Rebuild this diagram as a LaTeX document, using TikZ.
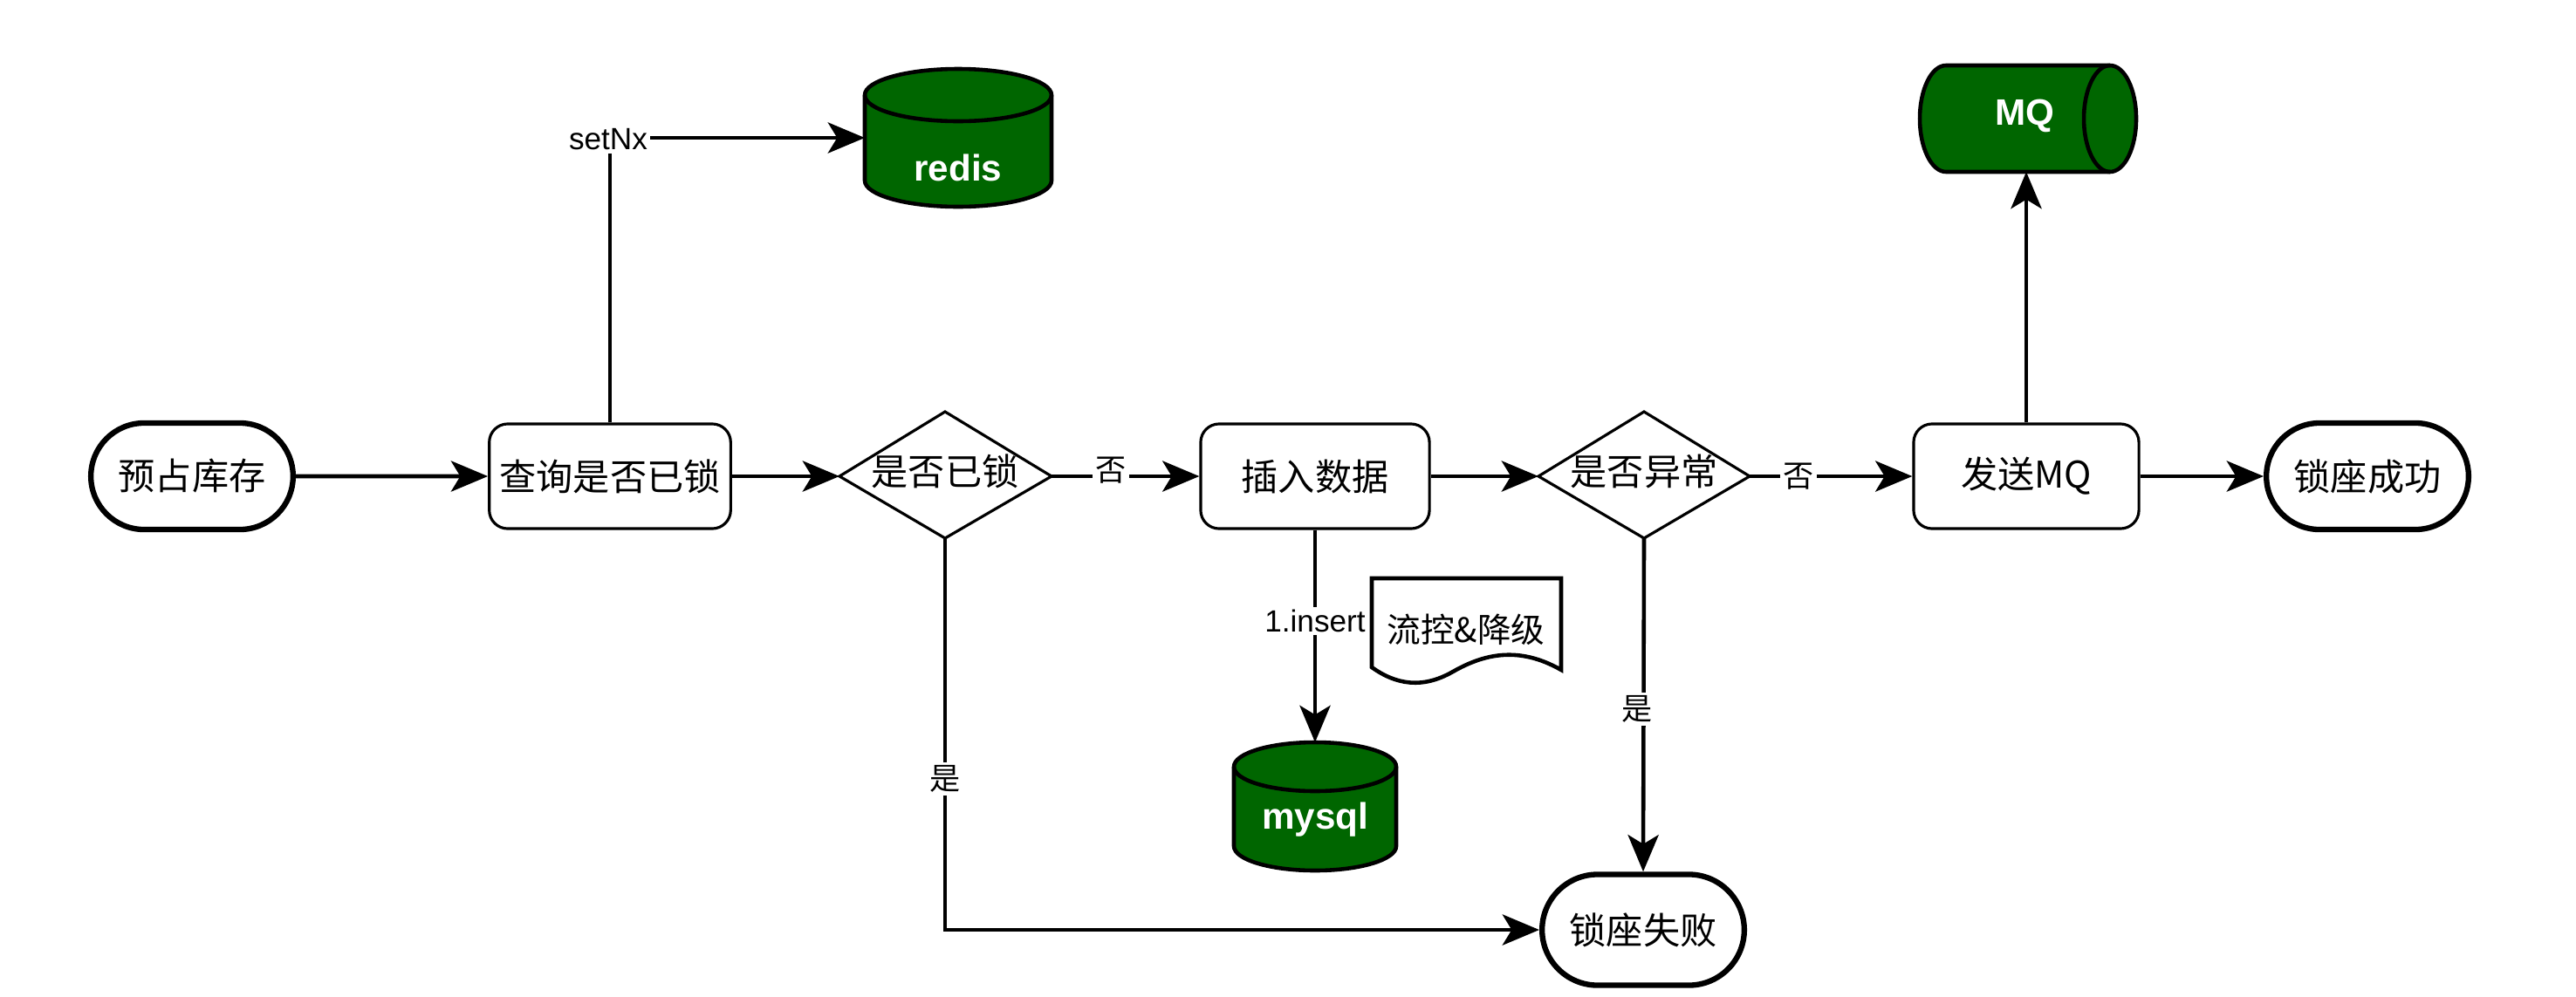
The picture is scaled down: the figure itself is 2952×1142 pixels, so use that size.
\documentclass[tikz,border=0pt]{standalone}
\usepackage{fontspec}
\setmainfont{Noto Sans CJK SC}
\newfontfamily\lsans{Liberation Sans}
\usetikzlibrary{arrows.meta,shapes.misc}
\definecolor{dg}{RGB}{0,102,0}
\begin{document}
\begin{tikzpicture}[x=0.01cm,y=-0.01cm,
  lw/.style={line width=1.3pt},
  arr/.style={lw,-{Stealth[length=12pt,width=10pt,inset=3pt]}},
  term/.style={draw,rounded rectangle,line width=1.8pt,minimum width=2.55cm,minimum height=1.22cm,font=\fontsize{12}{14}\selectfont},
  proc/.style={draw,line width=0.9pt,rounded corners=6pt,minimum width=2.75cm,minimum height=1.2cm,font=\fontsize{12}{14}\selectfont},
  lab/.style={fill=white,inner sep=1pt,font=\fontsize{10}{12}\selectfont},
  dbt/.style={text=white,font=\lsans\bfseries\fontsize{12}{14}\selectfont}]
\useasboundingbox (0,0) rectangle (2952,1142);
% terminators
\node[term] (start) at (220,546) {预占库存};
\node[term] (succ) at (2713,546) {锁座成功};
\node[term,minimum height=1.27cm] (fail) at (1883,1066) {锁座失败};
% processes
\node[proc] (query) at (699,546) {查询是否已锁};
\node[proc,minimum width=2.62cm] (ins) at (1507,546) {插入数据};
\node[proc,minimum width=2.58cm] (send) at (2322,546) {发送MQ};
% diamonds
\path[draw,line width=0.9pt] (962,546) coordinate (d1w) -- (1083,472) coordinate (d1n) -- (1205,546) coordinate (d1e) -- (1083,617) coordinate (d1s) -- cycle;
\node[font=\fontsize{12}{14}\selectfont] (d1) at (1083,540) {是否已锁};
\path[draw,line width=0.9pt] (1763,546) coordinate (d2w) -- (1884,472) coordinate (d2n) -- (2005,546) coordinate (d2e) -- (1884,617) coordinate (d2s) -- cycle;
\node[font=\fontsize{12}{14}\selectfont] (d2) at (1884,540) {是否异常};
% redis cylinder
\fill[dg,draw=black,lw] (991,109) -- (991,207) arc[start angle=180,end angle=0,x radius=107,y radius=30] -- (1205,109) arc[start angle=0,end angle=-180,x radius=107,y radius=30] -- cycle;
\draw[lw] (991,109) arc[start angle=180,end angle=0,x radius=107,y radius=30];
\node[dbt] (redis) at (1098,192) {redis};
\coordinate (redisw) at (991,158);
% mysql cylinder
\fill[dg,draw=black,lw] (1414,879) -- (1414,970) arc[start angle=180,end angle=0,x radius=93,y radius=28] -- (1600,879) arc[start angle=0,end angle=-180,x radius=93,y radius=28] -- cycle;
\draw[lw] (1414,879) arc[start angle=180,end angle=0,x radius=93,y radius=28];
\node[dbt] (mysql) at (1507,940) {mysql};
\coordinate (mysqln) at (1507,851);
% MQ horizontal cylinder
\fill[dg,draw=black,lw] (2230,75) -- (2418,75) arc[start angle=-90,end angle=90,x radius=30,y radius=61] -- (2230,197) arc[start angle=90,end angle=270,x radius=30,y radius=61] -- cycle;
\draw[lw] (2418,75) arc[start angle=-90,end angle=-270,x radius=30,y radius=61];
\node[dbt] (mq) at (2320,133) {MQ};
\coordinate (mqs) at (2322,197);
% document
\draw[lw,fill=white] (1572,663) -- (1789,663) -- (1789,768) .. controls (1740,740) and (1700,750) .. (1665,770) .. controls (1630,790) and (1600,785) .. (1572,765) -- cycle;
\node[font=\fontsize{11}{13}\selectfont] (doc) at (1680,722) {流控\&降级};
% connectors
\draw[arr] (start) -- (query);
\draw[arr] (query) -- (d1w);
\draw[arr] (d1e) -- node[lab,pos=0.4,yshift=2pt]{否} (ins);
\draw[arr] (ins) -- (d2w);
\draw[arr] (d2e) -- node[lab,pos=0.3]{否} (send);
\draw[arr] (send) -- (succ);
\draw[arr] (send) -- (mqs);
\draw[arr] (query.north) -- (699,158) -- (redisw);
\node[lab,font=\lsans\fontsize{10}{12}\selectfont] at (697,160) {setNx};
\draw[arr] (d1s) |- (fail.west);
\node[lab] at (1083,893) {是};
\draw[arr] (d2s) -- (fail.north);
\node[lab] at (1876,813) {是};
\draw[arr] (ins.south) -- (mysqln);
\node[lab,font=\lsans\fontsize{10}{12}\selectfont] at (1507,712) {1.insert};
\end{tikzpicture}
\end{document}
